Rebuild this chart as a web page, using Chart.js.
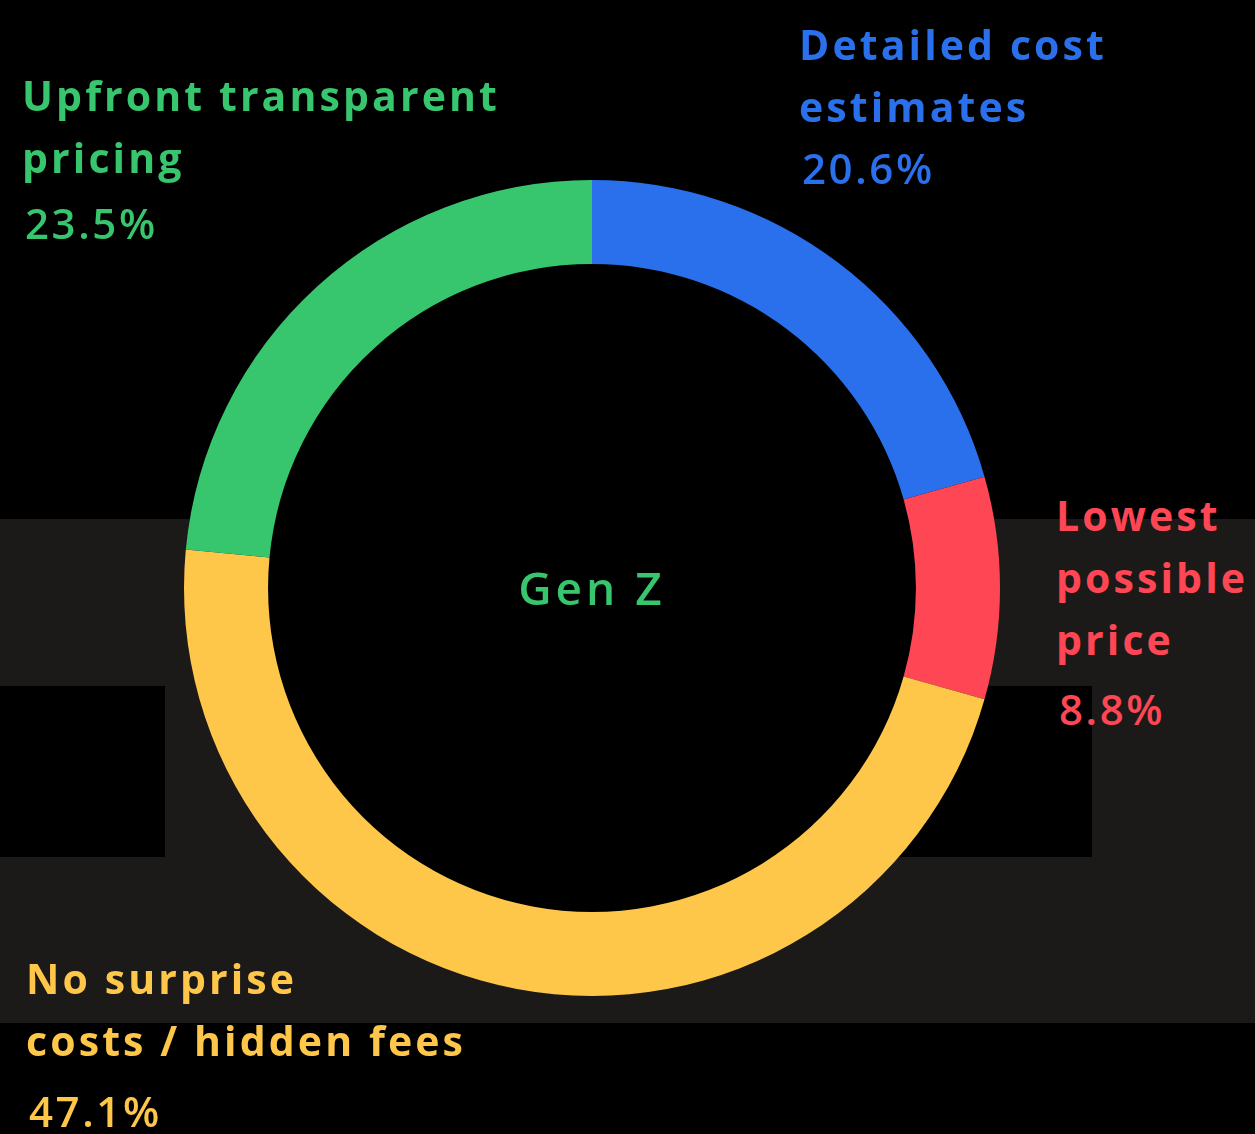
<!DOCTYPE html>
<html>
<head>
<meta charset="utf-8">
<script src="https://cdn.jsdelivr.net/npm/chart.js@4.4.1/dist/chart.umd.min.js"></script>
<style>
  html, body { margin: 0; padding: 0; background: #000; }
  body { width: 1255px; height: 1134px; position: relative; overflow: hidden;
         font-family: "Open Sans", "Noto Sans", sans-serif; }
  .band { position: absolute; left: 0; top: 519px; width: 1255px; height: 504px; background: #1b1a18; }
  .blk { position: absolute; background: #000; }
  #wrap { position: absolute; left: 184px; top: 180px; width: 816px; height: 816px; }
  .lbl { position: absolute; font-weight: 700; font-size: 41px; line-height: 62px; letter-spacing: 3.1px; white-space: nowrap; }
  .lbl .pct { display: inline-block; padding-left: 3px; font-weight: 600; font-size: 42px; letter-spacing: 2.6px; }
  #center { position: absolute; left: 392px; top: 556px; width: 400px; text-align: center;
            font-weight: 600; font-size: 46px; line-height: 62px; color: #37c66e; letter-spacing: 4px; }
</style>
</head>
<body>
<div class="band"></div>
<div class="blk" style="left:0;top:686px;width:165px;height:171px"></div>
<div class="blk" style="left:700px;top:686px;width:392px;height:171px"></div>

<div id="wrap"><canvas id="donut" width="816" height="816"></canvas></div>
<div id="center">Gen Z</div>

<div class="lbl" style="left:799px;top:13px;color:#2a6fec">Detailed cost<br>estimates<br><span class="pct">20.6%</span></div>
<div class="lbl" style="left:1056px;top:484px;color:#ff4655">Lowest<br>possible<br>price<br><span class="pct" style="margin-top:8px">8.8%</span></div>
<div class="lbl" style="left:22px;top:64px;color:#37c66e">Upfront transparent<br>pricing<br><span class="pct" style="margin-top:4px">23.5%</span></div>
<div class="lbl" style="left:26px;top:947px;color:#fec74a">No surprise<br>costs / hidden fees<br><span class="pct" style="margin-top:9px">47.1%</span></div>

<script>
// segment order goes clockwise from 12 o'clock
const categories = ['Detailed cost estimates', 'Lowest possible price', 'No surprise costs / hidden fees', 'Upfront transparent pricing'];
const shares = [20.6, 8.8, 47.1, 23.5];
const sliceColors = ['#2a6fec', '#ff4655', '#fec74a', '#37c66e'];

// paint the hole black so the grey band doesn't show through
const holeFill = {
  id: 'holeFill',
  beforeDatasetsDraw(chart) {
    const arc = chart.getDatasetMeta(0).data[0];
    if (!arc) return;
    const ctx = chart.ctx;
    ctx.save();
    ctx.fillStyle = '#000';
    ctx.beginPath();
    ctx.arc(arc.x, arc.y, arc.innerRadius, 0, Math.PI * 2);
    ctx.fill();
    ctx.restore();
  }
};

new Chart(document.getElementById('donut'), {
  type: 'doughnut',
  data: {
    labels: categories,
    datasets: [{
      data: shares,
      backgroundColor: sliceColors,
      borderWidth: 0
    }]
  },
  options: {
    responsive: false,
    animation: false,
    cutout: '79.4%',
    layout: { padding: 0 },
    plugins: {
      legend: { display: false },
      tooltip: { enabled: false }
    }
  },
  plugins: [holeFill]
});
</script>
</body>
</html>
